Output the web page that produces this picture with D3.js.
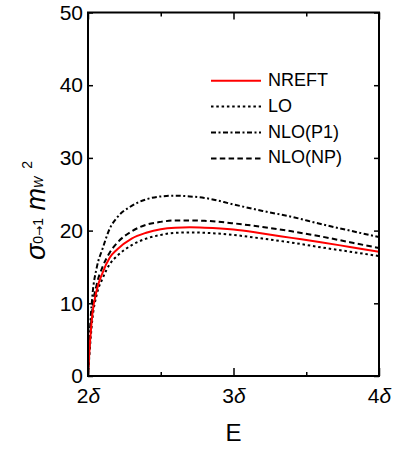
<!DOCTYPE html>
<html>
<head>
<meta charset="utf-8">
<script src="https://cdn.jsdelivr.net/npm/d3@7"></script>
<style>
  body { margin: 0; background: #fff; }
  svg { display: block; font-family: "Liberation Sans", Arial, Helvetica, sans-serif; }
</style>
</head>
<body>
<div id="chart"></div>
<script>
// energy in units of delta
const energy = [2, 2.01, 2.03, 2.06, 2.1, 2.15, 2.2, 2.3, 2.4, 2.5, 2.6, 2.7, 2.8, 3.0, 3.2, 3.4, 3.6, 3.8, 4.0];

const nreft = [0, 3.5, 8.5, 11.8, 14.2, 16.3, 17.4, 18.9, 19.7, 20.2, 20.4, 20.45, 20.4, 20.15, 19.6, 19.0, 18.4, 17.75, 17.1];
const lo    = [0, 3.0, 7.8, 11.2, 13.4, 15.4, 16.5, 18.0, 18.9, 19.4, 19.7, 19.75, 19.7, 19.4, 18.9, 18.35, 17.7, 17.1, 16.5];
const nloP1 = [0, 5.0, 11.0, 14.9, 17.5, 20.3, 21.8, 23.4, 24.3, 24.7, 24.8, 24.7, 24.5, 23.6, 22.7, 21.9, 20.9, 20.0, 19.1];
const nloNP = [0, 4.0, 9.2, 12.6, 15.0, 17.0, 18.3, 19.9, 20.8, 21.2, 21.4, 21.4, 21.35, 21.0, 20.5, 19.9, 19.2, 18.4, 17.6];

const seriesNames = ["NREFT", "LO", "NLO(P1)", "NLO(NP)"];
const xMajor = [2, 3, 4];
const xMinor = [2.5, 3.5];
const yTicks = [0, 10, 20, 30, 40, 50];

const styles = [
  { color: "#ff0000", dash: null },
  { color: "#000", dash: "2.5,2.8" },
  { color: "#000", dash: "5,2.5,2,2.5" },
  { color: "#000", dash: "5.5,3.3" }
];
const series = [nreft, lo, nloP1, nloNP];

const W = 399, H = 451;
const margin = { top: 12.5, right: 20, bottom: 75, left: 88 };
const width = 379 - margin.left;
const height = 376 - margin.top;

const svg = d3.select("#chart").append("svg").attr("width", W).attr("height", H);
const g = svg.append("g").attr("transform", `translate(${margin.left},${margin.top})`);

const x = d3.scaleLinear().domain([2, 4]).range([0, width]);
const y = d3.scaleLinear().domain([0, 50]).range([height, 0]);

g.append("clipPath").attr("id", "clip").append("rect").attr("width", width).attr("height", height);

// curves
const line = d3.line().x((d, i) => x(energy[i])).y(d => y(d)).curve(d3.curveMonotoneX);
const order = [1, 3, 2, 0];
order.forEach(k => {
  g.append("path")
    .attr("clip-path", "url(#clip)")
    .attr("d", line(series[k]))
    .attr("fill", "none")
    .attr("stroke", styles[k].color)
    .attr("stroke-width", 2)
    .attr("stroke-dasharray", styles[k].dash);
});

// axes (ticks inside)
const axisStyle = sel => {
  sel.select(".domain").remove();
  sel.selectAll(".tick line").attr("stroke", "#000").attr("stroke-width", 1.5);
};

g.append("g").call(d3.axisLeft(y).tickValues(yTicks).tickSize(-5).tickPadding(5).tickFormat(d3.format("d")))
  .call(axisStyle)
  .selectAll("text").attr("font-size", 21).attr("fill", "#000").attr("font-family", null);

g.append("g").attr("transform", `translate(${width},0)`)
  .call(d3.axisRight(y).tickValues(yTicks).tickSize(-5).tickFormat(""))
  .call(axisStyle);

const xb = g.append("g").attr("transform", `translate(0,${height})`)
  .call(d3.axisBottom(x).tickValues(xMajor).tickSize(-8).tickPadding(8).tickFormat(""))
  .call(axisStyle);
xb.selectAll(".tick text").each(function (d) {
  const t = d3.select(this).attr("font-size", 21).attr("fill", "#000").attr("font-family", null).attr("dy", "0.9em");
  t.append("tspan").text(d);
  t.append("tspan").attr("font-style", "italic").text("δ");
});
g.append("g").attr("transform", `translate(0,${height})`)
  .call(d3.axisBottom(x).tickValues(xMinor).tickSize(-4).tickFormat(""))
  .call(axisStyle);
g.append("g")
  .call(d3.axisTop(x).tickValues(xMajor).tickSize(-7).tickFormat(""))
  .call(axisStyle);
g.append("g")
  .call(d3.axisTop(x).tickValues(xMinor).tickSize(-4).tickFormat(""))
  .call(axisStyle);

// frame
g.append("rect").attr("width", width).attr("height", height)
  .attr("fill", "none").attr("stroke", "#000").attr("stroke-width", 2);

// axis titles
svg.append("text").attr("x", margin.left + width / 2).attr("y", 441)
  .attr("text-anchor", "middle").attr("font-size", 24).text("E");

const yl = svg.append("text")
  .attr("transform", "translate(45,260) rotate(-90)")
  .attr("text-anchor", "start").attr("font-size", 27);
yl.append("tspan").attr("y", 0).attr("font-style", "italic").text("σ");
yl.append("tspan").attr("y", -2).attr("font-size", 14).text("0");
yl.append("tspan").attr("y", -2).attr("font-size", 12).attr("font-family", "DejaVu Sans").text("→");
yl.append("tspan").attr("y", -2).attr("font-size", 14).text("1");
yl.append("tspan").attr("y", 0).text(" ");
yl.append("tspan").attr("y", 0).attr("font-style", "italic").text("m");
yl.append("tspan").attr("y", -2).attr("font-style", "italic").attr("font-size", 12).text("W");
yl.append("tspan").attr("y", -13).attr("dx", 8).attr("font-size", 14).text("2");

// legend
const legend = svg.append("g").attr("transform", "translate(211,80.7)");
seriesNames.forEach((name, i) => {
  const row = legend.append("g").attr("transform", `translate(0,${i * 25.9})`);
  row.append("line").attr("x1", 0).attr("x2", 50).attr("y1", 0).attr("y2", 0)
    .attr("stroke", styles[i].color).attr("stroke-width", 2)
    .attr("stroke-dasharray", styles[i].dash);
  row.append("text").attr("x", 57).attr("y", 5).attr("font-size", 18).text(name);
});
</script>
</body>
</html>
